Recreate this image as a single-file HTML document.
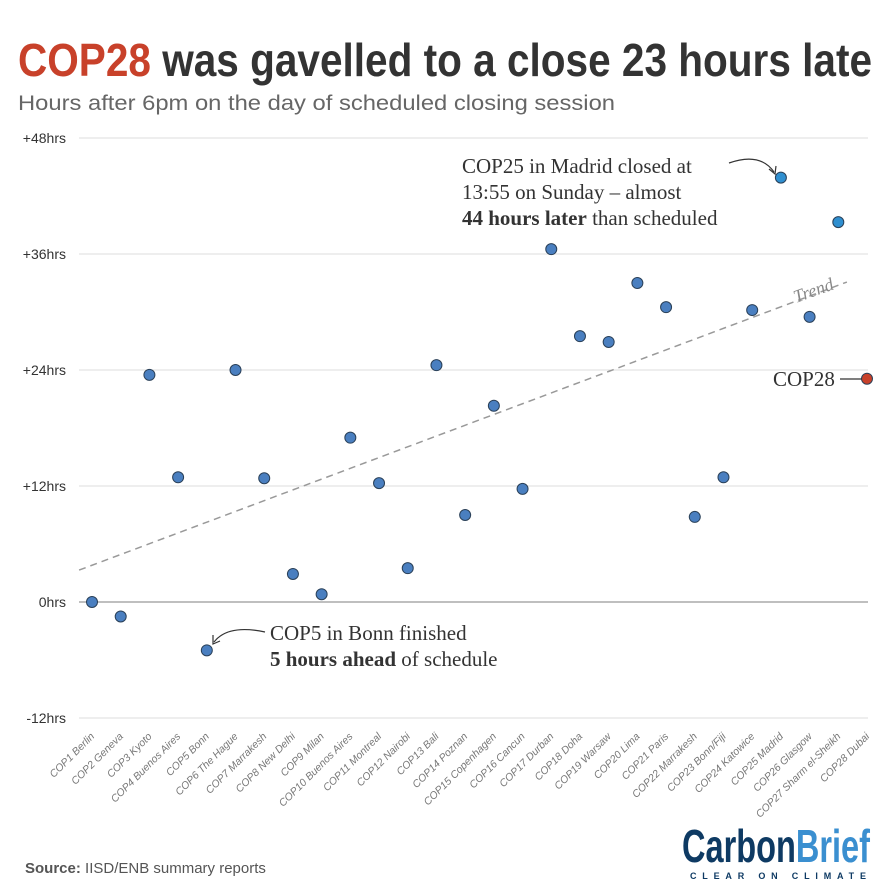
<!DOCTYPE html>
<html><head><meta charset="utf-8"><style>
html,body{margin:0;padding:0;background:#fff;}
svg{display:block;font-family:"Liberation Sans",sans-serif;}
</style></head><body>
<svg id="chart" width="892" height="892" viewBox="0 0 892 892" xmlns="http://www.w3.org/2000/svg">
<text x="18" y="76" font-family="Liberation Sans Narrow, Liberation Sans, sans-serif" font-weight="bold" font-size="46" textLength="854" lengthAdjust="spacingAndGlyphs" fill="#333"><tspan fill="#c8412a">COP28</tspan> was gavelled to a close 23 hours late</text>
<text x="18" y="110" font-size="21" fill="#666" textLength="597" lengthAdjust="spacingAndGlyphs">Hours after 6pm on the day of scheduled closing session</text>
<g id="grid"></g>
<g id="yaxis"></g>
<g id="xaxis"></g>
<g id="trend"></g>
<g id="points"></g>
<g font-family="Liberation Serif, serif" font-size="21" fill="#333">
<text x="462" y="173">COP25 in Madrid closed at</text>
<text x="462" y="199">13:55 on Sunday – almost</text>
<text x="462" y="225"><tspan font-weight="bold">44 hours later</tspan> than scheduled</text>
<path d="M729,163 Q760,152 774,172" fill="none" stroke="#333" stroke-width="1.2"/>
<path d="M769,169 L775,174 L776,166" fill="none" stroke="#333" stroke-width="1.2"/>
</g>
<g font-family="Liberation Serif, serif" font-size="21" fill="#333">
<text x="270" y="640">COP5 in Bonn finished</text>
<text x="270" y="666"><tspan font-weight="bold">5 hours ahead</tspan> of schedule</text>
<path d="M265,632 Q228,624 214,642" fill="none" stroke="#333" stroke-width="1.2"/>
<path d="M213,635 L213,644 L220,641" fill="none" stroke="#333" stroke-width="1.2"/>
</g>
<g>
<text x="773" y="386" font-family="Liberation Serif, serif" font-size="21" fill="#333">COP28</text>
<line x1="840" y1="379" x2="862" y2="379" stroke="#333" stroke-width="1.2"/>
</g>
<text x="796" y="303" transform="rotate(-20 796 303)" font-family="Liberation Serif, serif" font-style="italic" font-size="18" fill="#888">Trend</text>
<text x="25" y="873" font-size="15" fill="#555"><tspan font-weight="bold">Source:</tspan> IISD/ENB summary reports</text>
<g>
<text x="682" y="862" font-family="Liberation Sans Narrow, Liberation Sans, sans-serif" font-weight="bold" font-size="46" textLength="188" lengthAdjust="spacingAndGlyphs"><tspan fill="#0e3a63">Carbon</tspan><tspan fill="#3a8fd0">Brief</tspan></text>
<text x="690" y="879" font-size="9" font-weight="bold" fill="#0e3a63" textLength="176" lengthAdjust="spacing">CLEAR ON CLIMATE</text>
</g>
</svg>
<script>
const categories=["COP1 Berlin","COP2 Geneva","COP3 Kyoto","COP4 Buenos Aires","COP5 Bonn","COP6 The Hague","COP7 Marrakesh","COP8 New Delhi","COP9 Milan","COP10 Buenos Aires","COP11 Montreal","COP12 Nairobi","COP13 Bali","COP14 Poznan","COP15 Copenhagen","COP16 Cancun","COP17 Durban","COP18 Doha","COP19 Warsaw","COP20 Lima","COP21 Paris","COP22 Marrakesh","COP23 Bonn/Fiji","COP24 Katowice","COP25 Madrid","COP26 Glasgow","COP27 Sharm el-Sheikh","COP28 Dubai"];
const hours=[0,-1.5,23.5,12.9,-5,24,12.8,2.9,0.8,17,12.3,3.5,24.5,9,20.3,11.7,36.5,27.5,26.9,33,30.5,8.8,12.9,30.2,43.9,29.5,39.3,23.1];
const yTicks=[48,36,24,12,0,-12];
const yTickLabels=["+48hrs","+36hrs","+24hrs","+12hrs","0hrs","-12hrs"];
const trendIdx=[-0.45,26.3];
const trendHours=[3.3,33.1];
const NS="http://www.w3.org/2000/svg";
function x(i){return 92+i*(867-92)/27;}
function y(h){return 602-h*116/12;}
function mk(tag,attrs,parent){const e=document.createElementNS(NS,tag);for(const k in attrs)e.setAttribute(k,attrs[k]);parent.appendChild(e);return e;}
const grid=document.getElementById('grid'),ya=document.getElementById('yaxis'),xa=document.getElementById('xaxis'),tr=document.getElementById('trend'),pts=document.getElementById('points');
yTicks.forEach((t,k)=>{
  const l=mk('line',{x1:79,x2:868,y1:y(t),y2:y(t),stroke:t===0?'#999':'#ddd','stroke-width':t===0?1.3:1},grid);
  
  
  const tx=mk('text',{x:66,y:y(t)+5,'text-anchor':'end','font-size':14,fill:'#333'},ya);
  tx.textContent=yTickLabels[k];
  
  
});
categories.forEach((c,i)=>{
  const tx=mk('text',{x:x(i)+3,y:737,'text-anchor':'end','font-size':10.5,'font-style':'italic',fill:'#777',transform:`rotate(-45 ${x(i)+3} 737)`},xa);
  tx.textContent=c;
  
  
});
const tl=mk('line',{x1:x(trendIdx[0]),y1:y(trendHours[0]),x2:x(trendIdx[1]),y2:y(trendHours[1]),stroke:'#999','stroke-width':1.5,'stroke-dasharray':'7,5'},tr);


hours.forEach((h,i)=>{
  const last=i===hours.length-1;
  const fill=last?'#c8412a':(i===24||i===26?'#2f8fd0':'#4a7fc0');
  const c=mk('circle',{cx:x(i),cy:y(h),r:5.5,fill:fill,stroke:'#2a4058','stroke-width':1},pts);
  
  
});
</script>
</body></html>
